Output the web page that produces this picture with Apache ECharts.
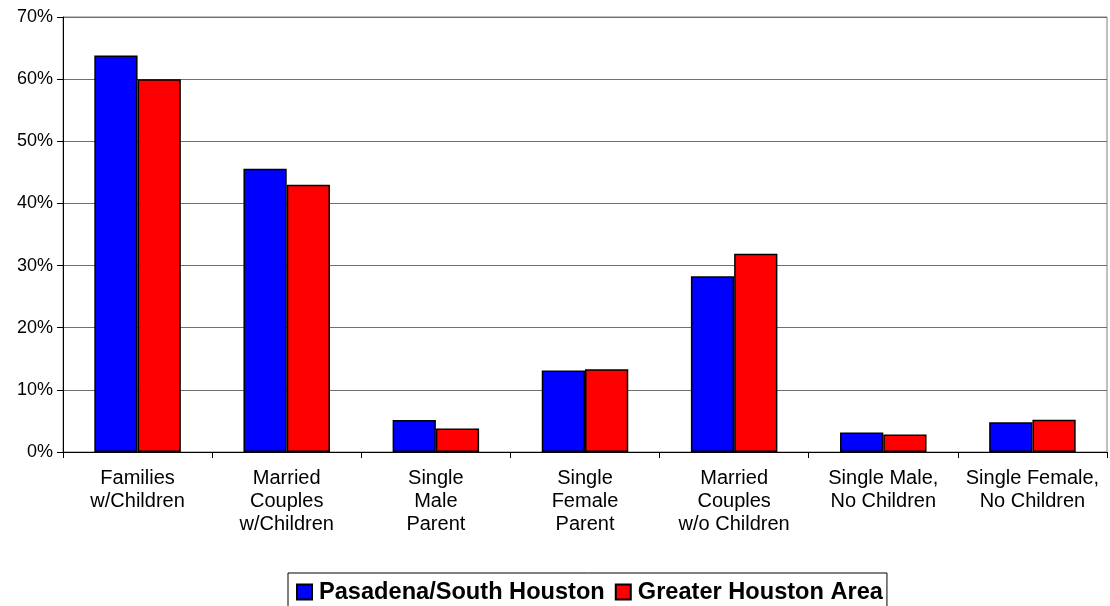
<!DOCTYPE html>
<html>
<head>
<meta charset="utf-8">
<script src="https://cdn.jsdelivr.net/npm/echarts@6/dist/echarts.min.js"></script>
<style>
  html, body { margin: 0; padding: 0; background: #fff; }
  #chart { width: 1110px; height: 606px; }
</style>
</head>
<body>
<div id="chart"></div>
<script>
// household types, share of all households (%)
const categories = [
  'Families\nw/Children',
  'Married\nCouples\nw/Children',
  'Single\nMale\nParent',
  'Single\nFemale\nParent',
  'Married\nCouples\nw/o Children',
  'Single Male,\nNo Children',
  'Single Female,\nNo Children'
]
const pasadena = [63.8, 45.6, 5.15, 13.1, 28.3, 3.15, 4.8]
const greaterHouston = [60.0, 43.0, 3.8, 13.3, 31.9, 2.8, 5.2]
const seriesNames = ['Pasadena/South Houston', 'Greater Houston Area']

const FONT = '"Liberation Sans", Arial, sans-serif'

const chart = echarts.init(document.getElementById('chart'))
chart.setOption({
  animation: false,
  backgroundColor: '#fff',
  textStyle: { fontFamily: FONT },
  grid: {
    left: 63, right: 3, top: 17, bottom: 154,
    show: true, borderColor: '#808080', borderWidth: 1, backgroundColor: '#fff'
  },
  legend: {
    data: seriesNames,
    top: 573, left: 288,
    borderColor: '#000', borderWidth: 1,
    padding: [7, 4, 10, 8],
    itemWidth: 15, itemHeight: 15, itemGap: 10,
    icon: 'rect',
    textStyle: { fontFamily: FONT, fontSize: 23.6, fontWeight: 'bold', color: '#000', padding: [0, 0, 0, 2] }
  },
  xAxis: {
    type: 'category',
    data: categories,
    axisLine: { lineStyle: { color: '#000', width: 1 } },
    axisTick: { show: true, length: 6, lineStyle: { color: '#000' } },
    axisLabel: { color: '#000', fontSize: 20, lineHeight: 23, margin: 15, fontFamily: FONT, interval: 0 }
  },
  yAxis: {
    type: 'value',
    min: 0, max: 70, interval: 10,
    axisLine: { show: true, lineStyle: { color: '#000', width: 1 } },
    axisTick: { show: true, length: 6, lineStyle: { color: '#000' } },
    axisLabel: { color: '#000', fontSize: 18, margin: 10, formatter: '{value}%', fontFamily: FONT },
    splitLine: { lineStyle: { color: '#707070', width: 1 } }
  },
  series: [
    {
      name: seriesNames[0], type: 'bar', data: pasadena,
      barGap: '0%', barCategoryGap: '42%',
      itemStyle: { color: '#0000ff', borderColor: '#000', borderWidth: 1.5 }
    },
    {
      name: seriesNames[1], type: 'bar', data: greaterHouston,
      barGap: '0%', barCategoryGap: '42%',
      itemStyle: { color: '#ff0000', borderColor: '#000', borderWidth: 1.5 }
    }
  ]
})
</script>
</body>
</html>
